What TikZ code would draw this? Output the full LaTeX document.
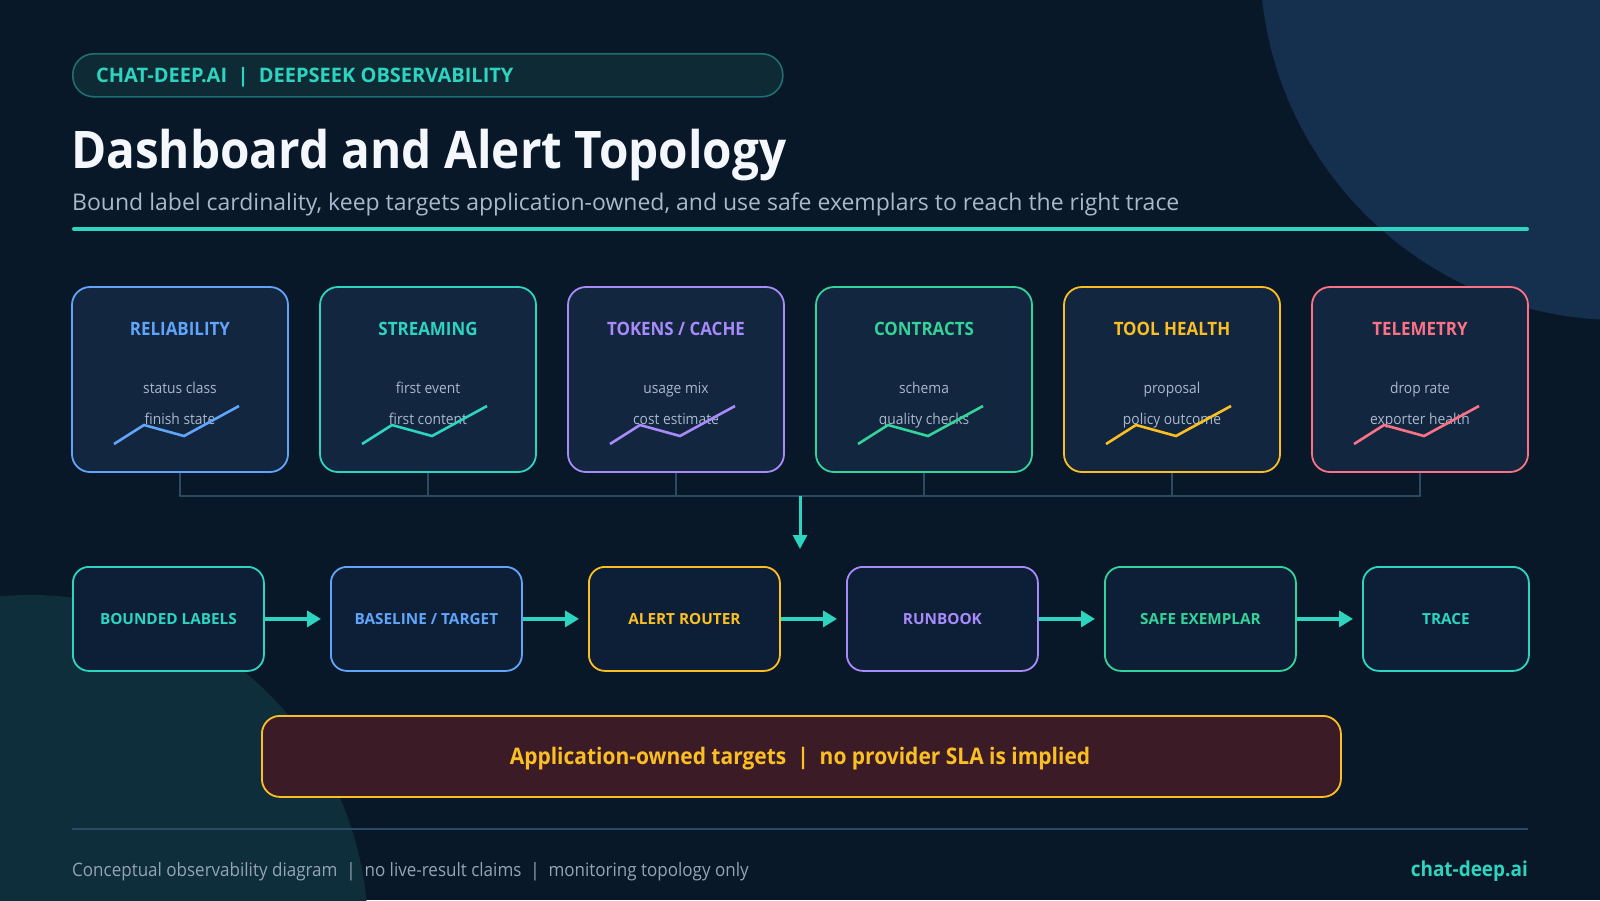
\documentclass[tikz,border=0pt]{standalone}
\usepackage{fontspec}
\setmainfont{Open Sans}
\newfontfamily\narrowfont{Open Sans}[FakeStretch=0.92]
\usetikzlibrary{arrows.meta}
\definecolor{bg}{HTML}{091828}
\definecolor{decoA}{HTML}{15304F}
\definecolor{decoB}{HTML}{0D2E3A}
\definecolor{teal}{HTML}{2DD4BF}
\definecolor{cblue}{HTML}{60A5FA}
\definecolor{cpurple}{HTML}{A78BFA}
\definecolor{cgreen}{HTML}{34D399}
\definecolor{cyellow}{HTML}{FBBF24}
\definecolor{cred}{HTML}{FB7185}
\definecolor{cardfill}{HTML}{12263F}
\definecolor{boxfill}{HTML}{0C1F36}
\definecolor{soft}{HTML}{A9B8CC}
\definecolor{muted}{HTML}{94A3B8}
\definecolor{busline}{HTML}{2B4A63}
\definecolor{pillfill}{HTML}{0D2A35}
\definecolor{pilldraw}{HTML}{1F6F70}
\definecolor{bannerfill}{HTML}{3A1B26}
\definecolor{titlewhite}{HTML}{F4F7FB}
\newcommand\fsz[1]{\fontsize{#1}{#1}\selectfont}
\tikzset{
  cardbox/.style={draw, fill=cardfill, line width=1.8pt, rounded corners=18pt,
    minimum width=216pt, minimum height=185pt, inner sep=0pt},
  cardtitle/.style={anchor=base, font=\narrowfont\fsz{18.4}\bfseries, inner sep=0pt},
  cardline/.style={anchor=base, font=\narrowfont\fsz{15}, text=soft, inner sep=0pt},
  spark/.style={line width=2.6pt, line join=miter},
  flowbox/.style={draw, fill=boxfill, line width=1.8pt, rounded corners=16pt,
    minimum width=191pt, minimum height=104pt, inner sep=0pt, font=\fsz{15.3}\bfseries},
  flowarrow/.style={draw=teal, line width=4pt, -{Triangle[length=14pt,width=16pt]}, shorten >=9pt},
  busstyle/.style={draw=busline, line width=2.6pt},
}
\newcommand\obscard[7]{%
  \node[cardbox, draw=#3] (#1) at (#2+108, 379.5) {};
  \node[cardtitle, text=#3] (#1t) at (#2+108, 335.5) {#4};
  \node[cardline] (#1a) at (#2+108, 393.5) {#5};
  \node[cardline] (#1b) at (#2+108, 424) {#6};
  \draw[spark, draw=#3] (#2+42,444) -- (#2+72,425) -- (#2+112,436) -- (#2+167,406);
}
\begin{document}
\begin{tikzpicture}[x=1pt,y=-1pt]
\fill[bg] (0,0) rectangle (1600,900);
\useasboundingbox (0,0) rectangle (1600,900);
\begin{scope}
  \clip (0,0) rectangle (1600,900);
  \fill[decoA] (1620,-40) circle[radius=360pt];
  \fill[decoB] (30,933) circle[radius=338pt];
\end{scope}

% header pill
\node[draw=pilldraw, fill=pillfill, line width=1.6pt, rounded corners=21pt,
  minimum width=710pt, minimum height=43pt, anchor=north west] (pill) at (72,53) {};
\node[anchor=base west, inner sep=0pt, font=\fsz{20}\bfseries, text=teal] (pilltext) at (96,82.5)
  {CHAT-DEEP.AI\ \ |\ \ DEEPSEEK OBSERVABILITY};

% title
\node[anchor=base west, inner sep=0pt, font=\narrowfont\fsz{51.8}\bfseries, text=titlewhite] (title) at (71,168.5)
  {Dashboard and Alert Topology};
\node[anchor=base west, inner sep=0pt, font=\fsz{23}, text=soft] (subtitle) at (72,210)
  {Bound label cardinality, keep targets application-owned, and use safe exemplars to reach the right trace};
\coordinate (ruleL) at (74,229);
\coordinate (ruleR) at (1527,229);
\draw[teal, line width=4pt, line cap=round] (ruleL) -- (ruleR);

% cards
\obscard{c1}{72}{cblue}{RELIABILITY}{status class}{finish state}{}
\obscard{c2}{320}{teal}{STREAMING}{first event}{first content}{}
\obscard{c3}{568}{cpurple}{TOKENS / CACHE}{usage mix}{cost estimate}{}
\obscard{c4}{816}{cgreen}{CONTRACTS}{schema}{quality checks}{}
\obscard{c5}{1064}{cyellow}{TOOL HEALTH}{proposal}{policy outcome}{}
\obscard{c6}{1312}{cred}{TELEMETRY}{drop rate}{exporter health}{}

% bus
\coordinate (bus) at (0,496);
\foreach \c in {c1,c2,c3,c4,c5,c6}{
  \draw[busstyle] (\c.south) -- (\c.south |- bus);
}
\draw[busstyle, line cap=round] (c1.south |- bus) -- (c6.south |- bus);
\coordinate (busmid) at (800,496);
\coordinate (drop) at (800,549);
\draw[draw=teal, line width=3pt, -{Triangle[length=14pt,width=14pt]}] (busmid) -- (drop);

% flow boxes
\node[flowbox, draw=teal, text=teal, anchor=north west] (f1) at (72,566) {BOUNDED LABELS};
\node[flowbox, draw=cblue, text=cblue, anchor=north west] (f2) at (330,566) {BASELINE / TARGET};
\node[flowbox, draw=cyellow, text=cyellow, anchor=north west] (f3) at (588,566) {ALERT ROUTER};
\node[flowbox, draw=cpurple, text=cpurple, anchor=north west] (f4) at (846,566) {RUNBOOK};
\node[flowbox, draw=cgreen, text=cgreen, anchor=north west] (f5) at (1104,566) {SAFE EXEMPLAR};
\node[flowbox, draw=teal, text=teal, anchor=north west, minimum width=166pt] (f6) at (1362,566) {TRACE};
\foreach \a/\b in {f1/f2,f2/f3,f3/f4,f4/f5,f5/f6}{
  \draw[flowarrow] (\a.east) -- (\b.west);
}

% banner
\node[draw=cyellow, fill=bannerfill, line width=1.8pt, rounded corners=18pt,
  minimum width=1079pt, minimum height=81pt, anchor=north west] (banner) at (261,715) {};
\node[anchor=base, font=\narrowfont\fsz{22.8}\bfseries, text=cyellow, inner sep=0pt] (bannertext) at (800,764)
  {Application-owned targets\ \ |\ \ no provider SLA is implied};

% footer
\coordinate (footL) at (72,829);
\coordinate (footR) at (1528,829);
\draw[busline, line width=2pt] (footL) -- (footR);
\node[anchor=base west, inner sep=0pt, font=\narrowfont\fsz{18.5}, text=muted] (foot) at (72,876)
  {Conceptual observability diagram\ \ |\ \ no live-result claims\ \ |\ \ monitoring topology only};
\node[anchor=base east, inner sep=0pt, font=\narrowfont\fsz{20.6}\bfseries, text=teal] (brand) at (1528,876)
  {chat-deep.ai};
\end{tikzpicture}
\end{document}
